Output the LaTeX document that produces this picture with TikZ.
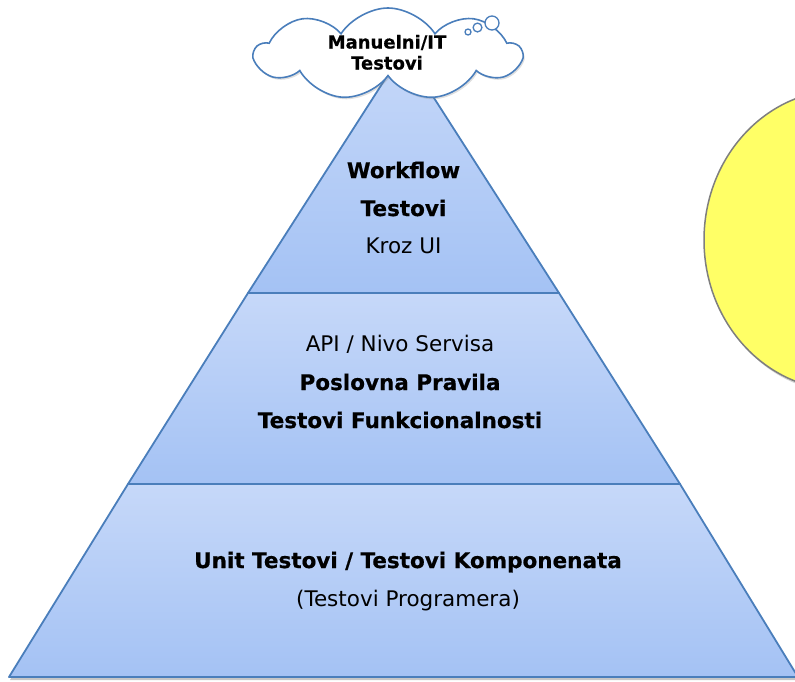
\documentclass[tikz,border=0pt]{standalone}
\usepackage{fontspec}
\setmainfont[BoldFeatures={FakeBold=0.6}]{DejaVu Sans}
\usetikzlibrary{shapes.symbols,shadows}
\definecolor{pedge}{HTML}{4A7EBB}
\definecolor{ptop}{HTML}{C6D8F9}
\definecolor{pbot}{HTML}{A4C2F4}
\definecolor{yfill}{HTML}{FFFF66}
\definecolor{ygray}{HTML}{7F7F7F}
\begin{document}
\begin{tikzpicture}[x=1pt,y=-1pt,
  tier/.style={draw=pedge,line width=1.8pt,line join=round,top color=ptop,bottom color=pbot},
  lbl/.style={anchor=base,inner sep=0pt,font=\fontsize{21.5}{26}\selectfont},
  lblb/.style={lbl,font=\fontsize{21.5}{26}\selectfont\bfseries},
  cl/.style={anchor=base,inner sep=0pt,font=\fontsize{18}{22}\selectfont\bfseries}]
\useasboundingbox (0,0) rectangle (795,681);
\clip (0,0) rectangle (795,681);
% shadow of pyramid
\fill[black!22] (10,680) -- (800,680) -- (405,53) -- cycle;
% tiers
\path[tier] (403.5,50.4) -- (559,293) -- (248,293) -- cycle;
\path[tier] (248,293) -- (559,293) -- (680,484) -- (128,484) -- cycle;
\path[tier] (128,484) -- (680,484) -- (798,677) -- (9,677) -- cycle;
% yellow ellipse
\path[draw=ygray,fill=yfill,line width=1.5pt,drop shadow={shadow xshift=2pt,shadow yshift=-3pt,opacity=.35}]
  (842,240) ellipse [x radius=138, y radius=150];
% cloud
\node[cloud,draw=pedge,fill=white,line width=1.6pt,cloud puffs=9,cloud puff arc=115,aspect=2.9,
  minimum width=266pt,minimum height=92pt,inner sep=0pt,
  drop shadow={shadow xshift=1.5pt,shadow yshift=-2pt,opacity=.25}] (cloud) at (388,54) {};
\path[draw=pedge,fill=white,line width=1.3pt] (468,32) circle [radius=3];
\path[draw=pedge,fill=white,line width=1.3pt] (477.5,27.5) circle [radius=4.4];
\path[draw=pedge,fill=white,line width=1.3pt] (492,23) circle [radius=7];
% cloud text
\node[cl] (c1) at (387,48.5) {Manuelni/IT};
\node[cl] (c2) at (387,69.5) {Testovi};
% tier texts
\node[lblb] (t1) at (403.5,178) {Workflow};
\node[lblb] (t2) at (403.5,216) {Testovi};
\node[lbl]  (t3) at (403.5,253) {Kroz UI};
\node[lbl]  (m1) at (400,351) {API / Nivo Servisa};
\node[lblb] (m2) at (400,390) {Poslovna Pravila};
\node[lblb] (m3) at (400,428) {Testovi Funkcionalnosti};
\node[lblb] (b1) at (408,568) {Unit Testovi / Testovi Komponenata};
\node[lbl]  (b2) at (408,606) {(Testovi Programera)};
\end{tikzpicture}
\end{document}
